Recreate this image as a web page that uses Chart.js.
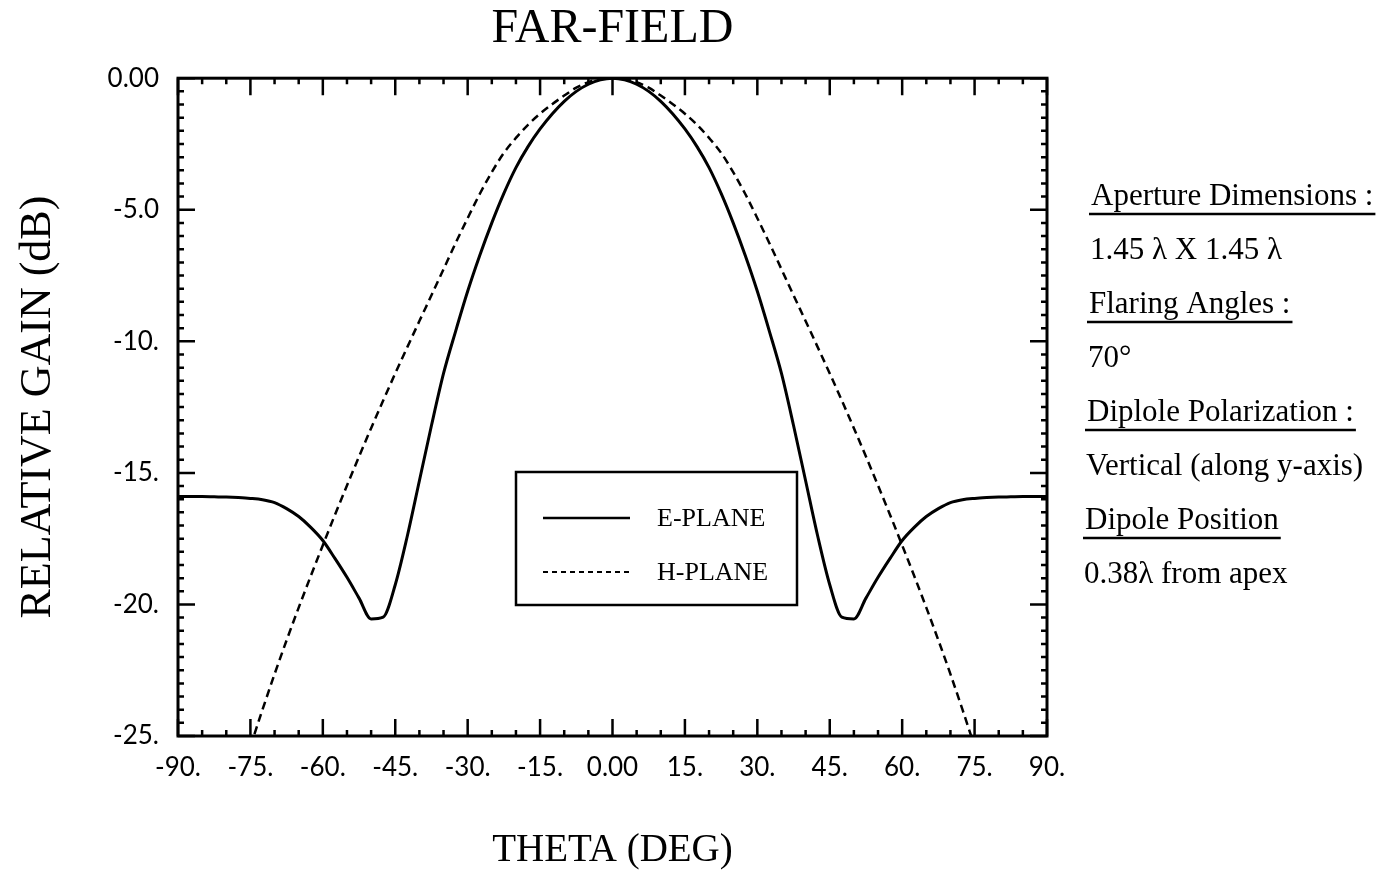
<!DOCTYPE html>
<html>
<head>
<meta charset="utf-8">
<title>Far-Field</title>
<script src="https://cdn.jsdelivr.net/npm/chart.js@4.4.1/dist/chart.umd.min.js"></script>
<style>
  html, body { margin: 0; padding: 0; background: #fff; }
</style>
</head>
<body>
<canvas id="farField" width="1397" height="871"></canvas>
<script>
// angle samples (deg)
const theta = [
  -90, -87.5, -85, -82.5, -80, -77.5, -75, -72.5, -70, -67.5, -65, -62.5,
  -60, -57.5, -55, -52.5, -50, -47.5, -45, -42.5, -40, -37.5, -35, -32.5,
  -30, -27.5, -25, -22.5, -20, -17.5, -15, -12.5, -10, -7.5, -5, -2.5,
  0,
  2.5, 5, 7.5, 10, 12.5, 15, 17.5, 20, 22.5, 25, 27.5, 30,
  32.5, 35, 37.5, 40, 42.5, 45, 47.5, 50, 52.5, 55, 57.5, 60,
  62.5, 65, 67.5, 70, 72.5, 75, 77.5, 80, 82.5, 85, 87.5, 90
];

// relative gain (dB)
const ePlane = [
  -15.9, -15.9, -15.9, -15.91, -15.92, -15.94, -15.97, -16.02, -16.13, -16.36, -16.66, -17.07,
  -17.57, -18.25, -18.97, -19.76, -20.55, -20.48, -19.25, -17.4, -15.3, -13.2, -11.22, -9.62,
  -8.1, -6.74, -5.5, -4.38, -3.4, -2.6, -1.93, -1.36, -0.88, -0.5, -0.23, -0.06,
  0,
  -0.06, -0.23, -0.5, -0.88, -1.36, -1.93, -2.6, -3.4, -4.38, -5.5, -6.74, -8.1,
  -9.62, -11.22, -13.2, -15.3, -17.4, -19.25, -20.48, -20.55, -19.76, -18.97, -18.25, -17.57,
  -17.07, -16.66, -16.36, -16.13, -16.02, -15.97, -15.94, -15.92, -15.91, -15.9, -15.9, -15.9
];

const hPlane = [
  null, null, null, null, null, null, -25.4, -24.0, -22.65, -21.36, -20.12, -18.92,
  -17.75, -16.6, -15.48, -14.38, -13.3, -12.25, -11.22, -10.22, -9.23, -8.25, -7.26, -6.27,
  -5.32, -4.4, -3.57, -2.84, -2.27, -1.77, -1.35, -0.99, -0.66, -0.36, -0.15, -0.03,
  0,
  -0.03, -0.15, -0.36, -0.66, -0.99, -1.35, -1.77, -2.27, -2.84, -3.57, -4.4, -5.32,
  -6.27, -7.26, -8.25, -9.23, -10.22, -11.22, -12.25, -13.3, -14.38, -15.48, -16.6, -17.75,
  -18.92, -20.12, -21.36, -22.65, -24.0, -25.4, null, null, null, null, null, null
];

const notes = [
  "Aperture Dimensions :",
  "1.45 \u03bb X 1.45 \u03bb",
  "Flaring Angles :",
  "70\u00b0",
  "Diplole Polarization :",
  "Vertical (along y-axis)",
  "Dipole Position",
  "0.38\u03bb from apex"
];

const SERIF = "'Liberation Serif', 'Times New Roman', serif";
const TICKFONT = "Lato, 'Open Sans', sans-serif";

function points(values) {
  return theta.map((t, i) => ({ x: t, y: values[i] }));
}

// box frame with inward ticks on all four sides
const frameTicks = {
  id: "frameTicks",
  afterDatasetsDraw(chart) {
    const { ctx, chartArea: a, scales: { x, y } } = chart;
    ctx.save();
    ctx.strokeStyle = "#000";
    ctx.lineWidth = 2.5;
    ctx.beginPath();
    for (let v = -90; v <= 90; v += 5) {
      const px = x.getPixelForValue(v);
      const len = v % 15 === 0 ? 17 : 6;
      ctx.moveTo(px, a.bottom); ctx.lineTo(px, a.bottom - len);
      ctx.moveTo(px, a.top); ctx.lineTo(px, a.top + len);
    }
    for (let v = -25; v <= 0; v += 0.5) {
      const py = y.getPixelForValue(v);
      const len = v % 5 === 0 ? 17 : 6;
      ctx.moveTo(a.left, py); ctx.lineTo(a.left + len, py);
      ctx.moveTo(a.right, py); ctx.lineTo(a.right - len, py);
    }
    ctx.stroke();
    ctx.lineWidth = 3;
    ctx.strokeRect(a.left, a.top, a.right - a.left, a.bottom - a.top);
    ctx.restore();
  }
};

// boxed legend inside the plot
const boxLegend = {
  id: "boxLegend",
  afterDraw(chart) {
    const { ctx } = chart;
    ctx.save();
    ctx.fillStyle = "#fff";
    ctx.fillRect(516, 472, 281, 133);
    ctx.strokeStyle = "#000";
    ctx.lineWidth = 2.5;
    ctx.strokeRect(516, 472, 281, 133);
    ctx.font = "26px " + SERIF;
    ctx.fillStyle = "#000";
    ctx.textBaseline = "middle";
    chart.data.datasets.forEach((ds, i) => {
      const yy = 518 + i * 54;
      ctx.beginPath();
      ctx.lineWidth = i === 0 ? 2.5 : 2;
      ctx.setLineDash(i === 0 ? [] : [5, 4]);
      ctx.moveTo(543, yy);
      ctx.lineTo(630, yy);
      ctx.stroke();
      ctx.setLineDash([]);
      ctx.fillText(ds.label, 657, yy + 1);
    });
    ctx.restore();
  }
};

// parameter notes on the right
const sideNotes = {
  id: "sideNotes",
  afterDraw(chart) {
    const { ctx } = chart;
    ctx.save();
    ctx.font = "31px " + SERIF;
    ctx.fillStyle = "#000";
    ctx.strokeStyle = "#000";
    ctx.textBaseline = "alphabetic";
    notes.forEach((txt, i) => {
      const x0 = 1091 - i;
      const base = 205 + i * 54;
      ctx.fillText(txt, x0, base);
      if (i % 2 === 0) {
        const w = ctx.measureText(txt).width;
        ctx.lineWidth = 2.5;
        ctx.beginPath();
        ctx.moveTo(x0 - 2, base + 9);
        ctx.lineTo(x0 + w + 2, base + 9);
        ctx.stroke();
      }
    });
    ctx.restore();
  }
};

new Chart(document.getElementById("farField"), {
  type: "line",
  data: {
    datasets: [
      {
        label: "E-PLANE",
        data: points(ePlane),
        borderColor: "#000",
        borderWidth: 3,
        pointRadius: 0,
        cubicInterpolationMode: "monotone",
        fill: false
      },
      {
        label: "H-PLANE",
        data: points(hPlane),
        borderColor: "#000",
        borderWidth: 2.5,
        borderDash: [8, 5],
        pointRadius: 0,
        cubicInterpolationMode: "monotone",
        spanGaps: false,
        fill: false
      }
    ]
  },
  options: {
    responsive: false,
    animation: false,
    layout: { padding: { left: 0, right: 350, top: 0, bottom: 0 } },
    plugins: {
      legend: { display: false },
      tooltip: { enabled: false },
      title: {
        display: true,
        text: "FAR-FIELD",
        fullSize: false,
        color: "#000",
        font: { family: SERIF, size: 48, weight: "normal", lineHeight: 1.15 },
        padding: { top: 2, bottom: 21 }
      }
    },
    scales: {
      x: {
        type: "linear",
        min: -90,
        max: 90,
        grid: { display: false, drawTicks: false },
        border: { display: false },
        ticks: {
          stepSize: 15,
          autoSkip: false,
          maxRotation: 0,
          padding: 16,
          color: "#000",
          font: { family: TICKFONT, size: 26 },
          callback: v => (v === 0 ? "0.00" : v + ".")
        },
        title: {
          display: true,
          text: "THETA (DEG)",
          color: "#000",
          font: { family: SERIF, size: 39, lineHeight: 1 },
          padding: { top: 0, bottom: 1 }
        },
        afterFit(s) { s.height = 135; s.paddingLeft = 0; s.paddingRight = 0; }
      },
      y: {
        min: -25,
        max: 0,
        grid: { display: false, drawTicks: false },
        border: { display: false },
        ticks: {
          stepSize: 5,
          padding: 19,
          color: "#000",
          font: { family: TICKFONT, size: 26 },
          callback: v => (v === 0 ? "0.00" : v === -5 ? "-5.0" : v + ".")
        },
        title: {
          display: true,
          text: "RELATIVE GAIN (dB)",
          color: "#000",
          font: { family: SERIF, size: 44, lineHeight: 1 },
          padding: { top: 16, bottom: 0 }
        },
        afterFit(s) { s.width = 178; s.paddingTop = 0; s.paddingBottom = 0; }
      }
    }
  },
  plugins: [frameTicks, boxLegend, sideNotes]
});
</script>
</body>
</html>
